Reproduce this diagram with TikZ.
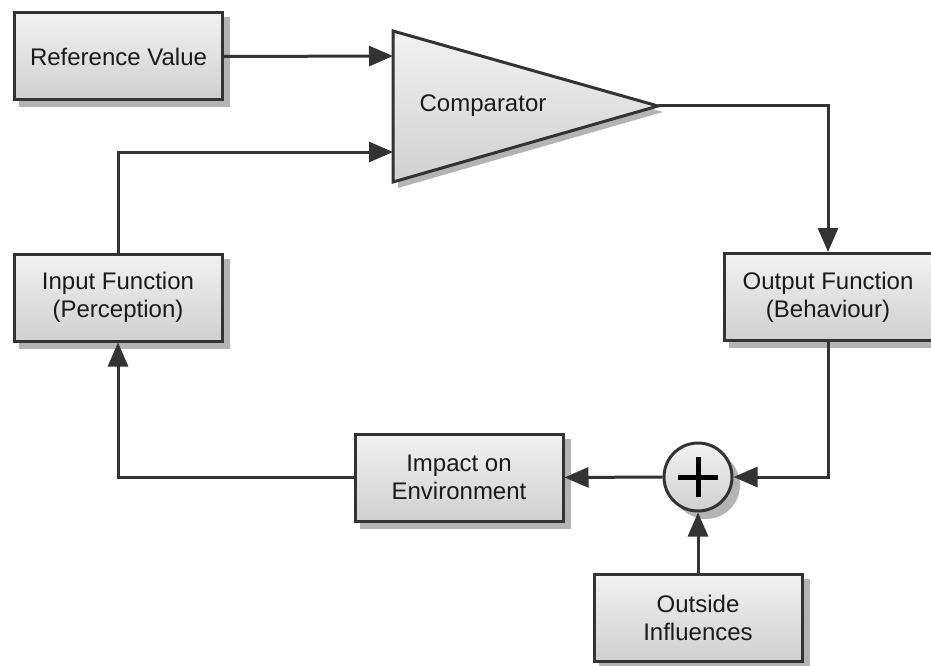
\documentclass[tikz,border=0pt]{standalone}
\usepackage{fontspec}
\setmainfont{Liberation Sans}
\usetikzlibrary{arrows.meta,backgrounds}
\definecolor{linec}{HTML}{333333}
\definecolor{topc}{HTML}{F2F2F2}
\definecolor{botc}{HTML}{D0D0D0}
\definecolor{shadc}{HTML}{B4B4B4}
\definecolor{txtc}{HTML}{1A1A1A}
\tikzset{
  blk/.style={draw=linec, line width=3pt, top color=topc, bottom color=botc,
    minimum width=208pt, minimum height=87pt, align=center, text=txtc,
    font=\fontsize{24}{28}\selectfont, inner sep=0pt},
  conn/.style={draw=linec, line width=3pt, -{Triangle[length=24pt,width=20pt]}},
  plain/.style={draw=linec, line width=3pt},
  shad/.style={fill=shadc}
}
\begin{document}
\begin{tikzpicture}[x=1pt,y=-1pt]
\useasboundingbox (0,0) rectangle (931,666);
% comparator
\coordinate (cA) at (393,31);
\coordinate (cB) at (393,182);
\coordinate (cTip) at (658,106);
\coordinate (cin1) at (393,56);
\coordinate (cin2) at (393,152);
\fill[shad] ([shift={(5,6)}]cA) -- ([shift={(5,6)}]cB) -- ([shift={(5,6)}]cTip) -- cycle;
\shade[draw=linec, line width=3pt, line join=miter, top color=topc, bottom color=botc] (cA) -- (cB) -- (cTip) -- cycle;
\node[text=txtc, font=\fontsize{24}{28}\selectfont] (cmp) at (483,106) {Comparator};
% blocks
\node[blk] (rv) at (118.5,56.5) {Reference Value};
\node[blk] (inp) at (118,297.5) {Input Function\\(Perception)};
\node[blk] (out) at (828,297) {Output Function\\(Behaviour)};
\node[blk] (imp) at (459,477.5) {Impact on\\Environment};
\node[blk] (oi) at (698,617.5) {Outside\\Influences};
\node[circle, draw=linec, line width=3pt, top color=topc, bottom color=botc, minimum size=68pt, inner sep=0pt] (sum) at (698,477) {};
\draw[line width=5pt, black] ([xshift=-20pt]sum.center) -- ([xshift=20pt]sum.center);
\draw[line width=5pt, black] ([yshift=-20pt]sum.center) -- ([yshift=20pt]sum.center);
\begin{scope}[on background layer]
  \foreach \n in {rv,inp,out,imp,oi}{
    \fill[shad] ([shift={(6,6)}]\n.south west) rectangle ([shift={(6,6)}]\n.north east);
  }
  \fill[shad] ([shift={(8,8)}]sum.center) circle (34);
\end{scope}
% connectors
\draw[conn] (rv.east) -- (cin1);
\draw[conn] (inp.north) |- (cin2);
\draw[conn] (cTip) -| (out.north);
\draw[conn] (out.south) |- (sum.east);
\draw[conn] (sum.west) -- (imp.east);
\draw[conn] (oi.north) -- (sum.south);
\draw[conn] (imp.west) -| (inp.south);
\end{tikzpicture}
\end{document}
